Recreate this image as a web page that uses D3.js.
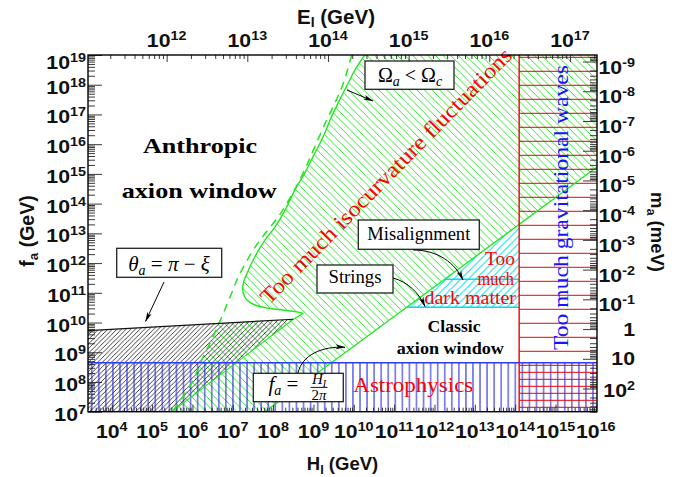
<!DOCTYPE html>
<html>
<head>
<meta charset="utf-8">
<script src="https://cdn.jsdelivr.net/npm/d3@7/dist/d3.min.js"></script>
<style>
  html, body { margin: 0; padding: 0; background: #fff; }
  svg { display: block; }
  text { white-space: pre; }
</style>
</head>
<body>
<svg id="chart" width="685" height="477"></svg>
<script>
// All quantities are log10 of the physical value (GeV, or meV for the axion mass).

// Axis extents and labelled decades
const hRange = [3.41, 16.03];           // Hubble rate during inflation, H_I
const fRange = [7, 19];                 // axion decay constant, f_a
const hTicks = d3.range(4, 17);
const fTicks = d3.range(7, 20);
const eTicks = d3.range(12, 18);        // inflation energy scale, E_I
const mTicks = d3.range(-9, 3);         // axion mass, m_a (meV)

// Conversions for the secondary axes
const eShift = 18.64;                   // log E_I = (log H_I + eShift) / 2
const mShift = 9.78;                    // log m_a = mShift - log f_a
const log2pi = Math.log10(2 * Math.PI); // f_a = H_I / 2π

// Bounds
const astroBound = 8.65;       // f_a, stellar cooling
const gwBound = 14.1;          // H_I, tensor modes
const misalignBound = 11.455;  // f_a, misalignment only
const stringsBound = 10.513;   // f_a, misalignment + strings

// Isocurvature limit with anharmonic corrections, [log H_I, log f_a]
const isoSolid = [
  [10.27, 19], [10.03, 18.50], [9.86, 18.05], [9.65, 17.49], [9.45, 16.93],
  [9.24, 16.25], [8.99, 15.58], [8.78, 15.02], [8.54, 14.46], [8.30, 13.79],
  [8.05, 13.22], [7.80, 12.78], [7.55, 12.22], [7.39, 11.77], [7.26, 11.32],
  [7.26, 10.98], [7.35, 10.76], [7.55, 10.59], [7.88, 10.48], [8.25, 10.42],
  [8.58, 10.36], [8.75, 10.31]
];
// Isocurvature limit, harmonic approximation
const isoDashed = [
  [9.95, 19], [9.74, 18.05], [9.53, 17.38], [9.29, 16.70], [9.00, 15.81],
  [8.72, 14.96], [8.21, 13.72], [7.59, 12.61], [7.14, 11.54], [6.97, 10.98],
  [6.80, 10.42], [6.62, 9.86], [6.43, 9.30], [6.23, 8.74], [6.02, 8.07],
  [5.81, 7.60], [5.55, 7.10], [5.50, 7.0]
];
// θ_a = π − ξ region
const thetaTop = [[3.41, 9.725], [8.50, 10.11]];
const thetaEdge = [[8.75, 10.31], [8.50, 10.11], [5.49, 7.0]];

const svg = d3.select("#chart");
const L = 88, R = 597, T = 55, B = 411.7;
const serif = "'Liberation Serif', 'Times New Roman', serif";
const sans = "'Liberation Sans', Arial, sans-serif";
const GREEN = "#22e622", CYAN = "#00dcec", RED = "#f00000", BLUE = "#1a1ae0";

const x = d3.scaleLog().domain(hRange.map(e => 10 ** e)).range([L, R]);
const y = d3.scaleLog().domain(fRange.map(e => 10 ** e)).range([B, T]);
const xE = d3.scaleLog().domain(hRange.map(e => 10 ** ((e + eShift) / 2))).range([L, R]);
const yM = d3.scaleLog().domain(fRange.map(e => 10 ** (mShift - e))).range([B, T]);
const pt = d => [x(10 ** d[0]), y(10 ** d[1])];

// ---------- definitions: clip, hatches, arrow head ----------
const defs = svg.append("defs");
defs.append("clipPath").attr("id", "plotClip")
  .append("rect").attr("x", L).attr("y", T).attr("width", R - L).attr("height", B - T);

function hatch(id, s, color, w, dir) {
  const d = dir === "\\"
    ? `M-1,-1L${s + 1},${s + 1}M-1,${s - 1}L1,${s + 1}M${s - 1},-1L${s + 1},1`
    : `M-1,${s + 1}L${s + 1},-1M-1,1L1,-1M${s - 1},${s + 1}L${s + 1},${s - 1}`;
  defs.append("pattern").attr("id", id).attr("patternUnits", "userSpaceOnUse")
    .attr("width", s).attr("height", s)
    .append("path").attr("d", d).attr("stroke", color).attr("stroke-width", w).attr("fill", "none");
}
hatch("hGreen", 7.6, GREEN, 0.95, "\\");
hatch("hCyan", 7.4, CYAN, 0.95, "/");
hatch("hBlack", 4.6, "#222", 0.85, "/");
defs.append("pattern").attr("id", "hBlue").attr("patternUnits", "userSpaceOnUse")
  .attr("x", 88.2).attr("y", 0).attr("width", 7.06).attr("height", 20)
  .append("path").attr("d", "M3.53,0V20").attr("stroke", BLUE).attr("stroke-width", 1);
function rowPattern(id, y0) {
  defs.append("pattern").attr("id", id).attr("patternUnits", "userSpaceOnUse")
    .attr("x", 0).attr("y", y0).attr("width", 20).attr("height", 14)
    .append("path").attr("d", "M0,3.5H20").attr("stroke", RED).attr("stroke-width", 1);
}
rowPattern("hRed", 53.8);
rowPattern("hRedFine", 60.8);
defs.append("marker").attr("id", "arrow").attr("viewBox", "0 0 10 6")
  .attr("refX", 9.5).attr("refY", 3).attr("markerWidth", 10).attr("markerHeight", 6)
  .attr("markerUnits", "userSpaceOnUse").attr("orient", "auto")
  .append("path").attr("d", "M0,0.6L10,3L0,5.4L2.5,3Z").attr("fill", "#000");

svg.append("rect").attr("width", 685).attr("height", 477).attr("fill", "#fff");
const plot = svg.append("g").attr("clip-path", "url(#plotClip)");

const smooth = d3.line().curve(d3.curveCatmullRom.alpha(0.5));
const straight = d3.line();

// ---------- regions ----------
// isocurvature region: right of the limit, above f_a = H_I/2π
const topAt = h => thetaTop[0][1] + (h - thetaTop[0][0]) *
  (thetaTop[1][1] - thetaTop[0][1]) / (thetaTop[1][0] - thetaTop[0][0]);
let cross = null, below = [];
for (let i = 0; i < isoDashed.length - 1; i++) {
  const a = isoDashed[i], b = isoDashed[i + 1];
  const da = a[1] - topAt(a[0]), db = b[1] - topAt(b[0]);
  if (da >= 0 && db < 0) {
    const t = da / (da - db);
    cross = [a[0] + t * (b[0] - a[0]), a[1] + t * (b[1] - a[1])];
    below = isoDashed.slice(i + 1);
    break;
  }
}
const greenTail = [thetaEdge[1], cross, ...below,
  [fRange[0] + log2pi, fRange[0]], [hRange[1], hRange[1] - log2pi], [hRange[1], fRange[1]]];
plot.append("path")
  .attr("d", smooth(isoSolid.map(pt)) + "L" + greenTail.map(pt).map(p => p.join(",")).join("L") + "Z")
  .attr("fill", "url(#hGreen)");

// too much dark matter
const cyanPoly = [[stringsBound + log2pi, stringsBound], [gwBound, stringsBound], [gwBound, gwBound - log2pi]];
plot.append("path").attr("d", straight(cyanPoly.map(pt)) + "Z").attr("fill", "url(#hCyan)");

// θ_a = π − ξ
const thetaPoly = [[hRange[0], fRange[0]], ...thetaTop, thetaEdge[2]];
plot.append("path").attr("d", straight(thetaPoly.map(pt)) + "Z").attr("fill", "url(#hBlack)");

// astrophysics
const xa = x(10 ** hRange[0]), xb = x(10 ** hRange[1]), xg = x(10 ** gwBound);
const yTop = y(10 ** fRange[1]), yBot = y(10 ** fRange[0]), yAstro = y(10 ** astroBound);
plot.append("rect").attr("x", xa).attr("width", xb - xa)
  .attr("y", yAstro).attr("height", yBot - yAstro).attr("fill", "url(#hBlue)");

// gravitational waves (finer rows where it overlaps the astrophysics band)
plot.append("rect").attr("x", xg).attr("width", xb - xg)
  .attr("y", yTop).attr("height", yBot - yTop).attr("fill", "url(#hRed)");
plot.append("rect").attr("x", xg).attr("width", xb - xg)
  .attr("y", yAstro).attr("height", yBot - yAstro).attr("fill", "url(#hRedFine)");

// ---------- boundary lines ----------
const stroke = (d, color, w, dash) => plot.append("path").attr("d", d).attr("fill", "none")
  .attr("stroke", color).attr("stroke-width", w).attr("stroke-dasharray", dash || null);

stroke(straight([[fRange[0] + log2pi, fRange[0]], [hRange[1], hRange[1] - log2pi]].map(pt)), GREEN, 1.3);
stroke(smooth(isoSolid.map(pt)), GREEN, 1.4);
stroke(straight(thetaEdge.map(pt)), GREEN, 1.1);
stroke(smooth(isoDashed.map(pt)), GREEN, 1.5, "8,6");
stroke(straight(thetaTop.map(pt)), "#111", 1.2);
stroke(straight([[misalignBound + log2pi, misalignBound], [gwBound, misalignBound]].map(pt)), CYAN, 1.4);
stroke(straight([[stringsBound + log2pi, stringsBound], [gwBound, stringsBound]].map(pt)), CYAN, 1.4);
stroke(straight([[hRange[0], astroBound], [hRange[1], astroBound]].map(pt)), "#2a3cff", 1.5);
stroke(straight([[gwBound, fRange[0]], [gwBound, fRange[1]]].map(pt)), RED, 1.4);

// ---------- region labels ----------
function label(txt, px, py, opts) {
  const o = Object.assign({ size: 18, color: "#000", anchor: "middle", weight: "normal", family: serif }, opts);
  const t = svg.append("text").attr("x", px).attr("y", py)
    .attr("text-anchor", o.anchor).attr("font-family", o.family)
    .attr("font-size", o.size).attr("font-weight", o.weight).attr("fill", o.color).text(txt);
  if (o.len) t.attr("textLength", o.len).attr("lengthAdjust", "spacingAndGlyphs");
  if (o.transform) t.attr("transform", o.transform).attr("x", 0).attr("y", 0);
  return t;
}

label("Too much isocurvature fluctuations", 0, 0,
  { size: 22, color: "#ff0000", len: 349, transform: "translate(386,176) rotate(-45.5)" })
  .attr("dy", "0.33em");
label("Too much gravitational waves", 0, 0,
  { size: 22, color: "#1515ff", len: 285, transform: "translate(567.5,207.5) rotate(-90)" });
label("Astrophysics", 353.3, 392, { size: 20.5, color: "#ff0000", anchor: "start", len: 120 });
label("Anthropic", 200, 153.3, { size: 22, weight: "bold", len: 114 });
label("axion window", 199.2, 198.3, { size: 22, weight: "bold", len: 155 });
label("Classic", 454, 331.7, { size: 16, weight: "bold", len: 53 });
label("axion window", 450.3, 354, { size: 16, weight: "bold", len: 107 });
label("Too", 515, 265, { size: 18, color: "#ff0000", anchor: "end", len: 30 });
label("much", 514, 285, { size: 18, color: "#ff0000", anchor: "end", len: 36.6 });
label("dark matter", 516, 303.5, { size: 18, color: "#ff0000", anchor: "end", len: 91.5 });

// ---------- annotation boxes ----------
const boxes = [
  [365, 61, 89, 28.3],
  [358.3, 220, 121, 29.3],
  [317, 265, 76, 28],
  [253.3, 373.3, 90, 28.4],
  [116.7, 248.3, 105, 29]
];
svg.append("g").selectAll("rect").data(boxes).join("rect")
  .attr("x", d => d[0]).attr("y", d => d[1]).attr("width", d => d[2]).attr("height", d => d[3])
  .attr("fill", "#fff").attr("stroke", "#222").attr("stroke-width", 1.3);

label("Misalignment", 418.8, 240, { size: 19, len: 103 });
label("Strings", 355, 283.3, { size: 19, len: 53 });

const tO = svg.append("text").attr("x", 410).attr("y", 81.5).attr("text-anchor", "middle")
  .attr("font-family", serif).attr("font-size", 20);
tO.append("tspan").text("Ω");
tO.append("tspan").attr("font-style", "italic").attr("font-size", 14).attr("dy", 4).text("a");
tO.append("tspan").attr("dy", -4).text(" < Ω");
tO.append("tspan").attr("font-style", "italic").attr("font-size", 14).attr("dy", 4).text("c");

const tT = svg.append("text").attr("x", 169).attr("y", 270.5).attr("text-anchor", "middle")
  .attr("font-family", serif).attr("font-size", 21);
tT.append("tspan").attr("font-style", "italic").text("θ");
tT.append("tspan").attr("font-style", "italic").attr("font-size", 14).attr("dy", 4).text("a");
tT.append("tspan").attr("dy", -4).text(" = ");
tT.append("tspan").attr("font-style", "italic").text("π");
tT.append("tspan").text(" − ");
tT.append("tspan").attr("font-style", "italic").text("ξ");

const tF = svg.append("text").attr("x", 268.5).attr("y", 391).attr("font-family", serif).attr("font-size", 21);
tF.append("tspan").attr("font-style", "italic").text("f");
tF.append("tspan").attr("font-style", "italic").attr("font-size", 14).attr("dy", 4).text("a");
tF.append("tspan").attr("dy", -4).text(" =");
const tN = svg.append("text").attr("x", 319).attr("y", 384).attr("text-anchor", "middle")
  .attr("font-family", serif).attr("font-size", 15).attr("font-style", "italic");
tN.append("tspan").text("H");
tN.append("tspan").attr("font-size", 10).attr("dy", 2.5).text("I");
svg.append("line").attr("x1", 310.5).attr("x2", 327.5).attr("y1", 387.4).attr("y2", 387.4)
  .attr("stroke", "#000").attr("stroke-width", 0.9);
const tD = svg.append("text").attr("x", 319).attr("y", 400).attr("text-anchor", "middle")
  .attr("font-family", serif).attr("font-size", 15);
tD.append("tspan").text("2");
tD.append("tspan").attr("font-style", "italic").text("π");

const arrows = [
  "M164,282L145.5,321.5",
  "M347,90L373,101",
  "M413,250C438,250 455,263 463,280",
  "M393,278C408,282 419,293 425,306.5",
  "M298,373C302,355 322,346 345,347.3"
];
svg.append("g").selectAll("path").data(arrows).join("path")
  .attr("d", d => d).attr("fill", "none").attr("stroke", "#000").attr("stroke-width", 1)
  .attr("marker-end", "url(#arrow)");

// ---------- axes ----------
function logMinor(lo, hi) {
  const v = [];
  for (let e = Math.floor(lo); e <= Math.ceil(hi); e++)
    for (let k = 2; k <= 9; k++) {
      const l = e + Math.log10(k);
      if (l >= lo && l <= hi) v.push(10 ** l);
    }
  return v;
}
function tickAxis(axis, values, size, tr) {
  svg.append("g").attr("transform", tr)
    .call(axis.tickValues(values).tickSize(size).tickFormat(""))
    .call(g => g.select(".domain").remove())
    .call(g => g.selectAll(".tick line").attr("stroke", "#222").attr("stroke-width", 0.9));
}
const eLo = (hRange[0] + eShift) / 2, eHi = (hRange[1] + eShift) / 2;
const mLo = mShift - fRange[1], mHi = mShift - fRange[0];

tickAxis(d3.axisLeft(y), fTicks.map(e => 10 ** e), -14, `translate(${L},0)`);
tickAxis(d3.axisLeft(y), logMinor(fRange[0], fRange[1]), -7, `translate(${L},0)`);
tickAxis(d3.axisRight(yM), mTicks.map(e => 10 ** e), -14, `translate(${R},0)`);
tickAxis(d3.axisRight(yM), logMinor(mLo, mHi), -7, `translate(${R},0)`);
tickAxis(d3.axisTop(xE), eTicks.map(e => 10 ** e), -7, `translate(0,${T})`);
tickAxis(d3.axisTop(xE), logMinor(eLo, eHi), -4, `translate(0,${T})`);
tickAxis(d3.axisBottom(x), hTicks.map(e => 10 ** e), -7, `translate(0,${B})`);
tickAxis(d3.axisBottom(x), logMinor(hRange[0], hRange[1]), -4, `translate(0,${B})`);

svg.append("rect").attr("x", L).attr("y", T).attr("width", R - L).attr("height", B - T)
  .attr("fill", "none").attr("stroke", "#000").attr("stroke-width", 1.4);

function powLabel(px, py, exp, anchor) {
  const t = svg.append("g").attr("transform", `translate(${px},${py}) scale(1.15,1)`)
    .append("text").attr("text-anchor", anchor).attr("font-family", sans)
    .attr("font-weight", "bold").attr("font-size", 18.5).attr("fill", "#111");
  if (exp === 0) t.text("1");
  else if (exp === 1) t.text("10");
  else {
    t.append("tspan").text("10");
    t.append("tspan").attr("font-size", 12.5).attr("dy", -7).text(String(exp));
  }
}
fTicks.forEach(e => powLabel(86, Math.max(y(10 ** e) + 9, T + 14), e, "end"));
mTicks.forEach(e => {
  const ty = yM(10 ** e);
  powLabel(635, ty + (e < 0 ? 12 : e === 2 ? 8 : 6.5), e, "end");
});
hTicks.forEach(e => powLabel(x(10 ** e), 438, e, "middle"));
eTicks.forEach(e => powLabel(xE(10 ** e), 46.5, e, "middle"));

// axis titles
function title(parts, tr, size, sub) {
  const t = svg.append("text").attr("transform", tr).attr("text-anchor", "middle")
    .attr("font-family", sans).attr("font-weight", "bold").attr("font-size", size).attr("fill", "#111");
  t.append("tspan").text(parts[0]);
  t.append("tspan").attr("font-size", size * 0.68).attr("dy", sub).text(parts[1]);
  t.append("tspan").attr("dy", -sub).text(parts[2]);
}
title(["E", "I", " (GeV)"], "translate(336,23.5)", 20.5, 3);
title(["H", "I", " (GeV)"], "translate(342.5,469.5)", 18.5, 4);
title(["f", "a", " (GeV)"], "translate(33.5,231) rotate(-90)", 19.5, 4);
title(["m", "a", " (meV)"], "translate(651,232) rotate(90)", 18.5, 4);
</script>
</body>
</html>
